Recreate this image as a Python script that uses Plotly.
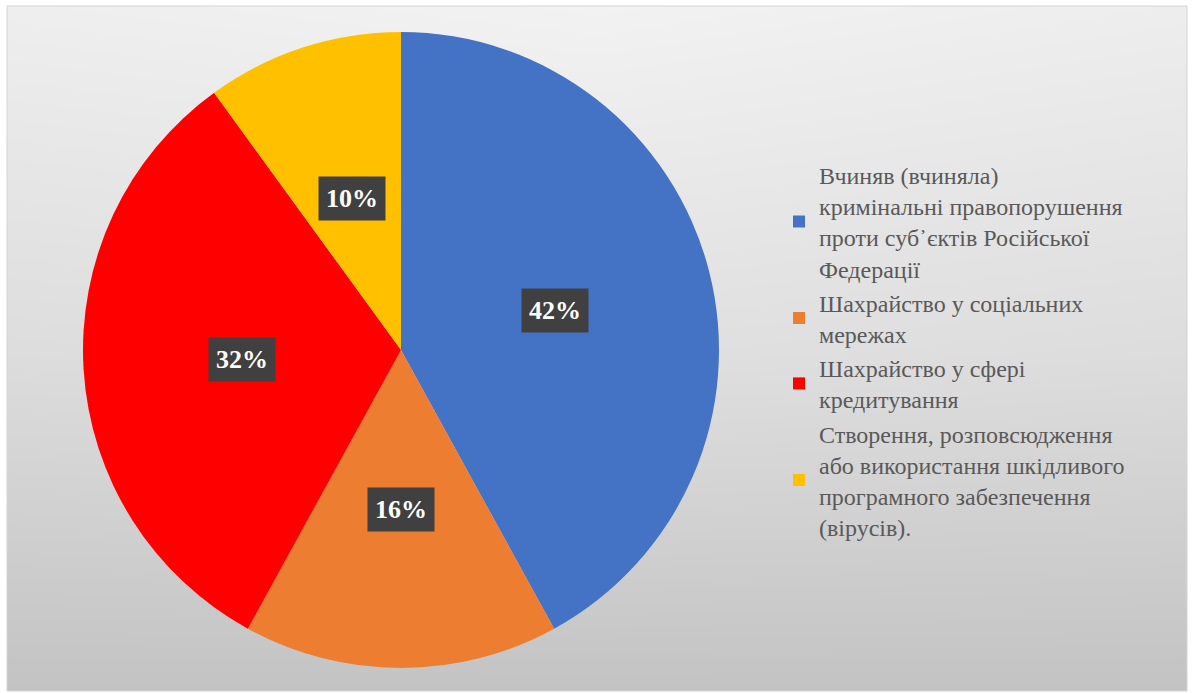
import math
import plotly.graph_objects as go

# Categories and their shares (%)
labels = [
    "Вчиняв (вчиняла)<br>кримінальні правопорушення<br>проти суб᾿єктів Російської<br>Федерації",
    "Шахрайство у соціальних<br>мережах",
    "Шахрайство у сфері<br>кредитування",
    "Створення, розповсюдження<br>або використання шкідливого<br>програмного забезпечення<br>(вірусів).",
]
values = [42, 16, 32, 10]
colors = ["#4472C4", "#ED7D31", "#FF0000", "#FFC000"]

W, H = 1194, 693

# Pie geometry in pixels
pie_cx, pie_cy, pie_r = 401, 350, 318

fig = go.Figure()

# Background panel with a soft vertical/diagonal grey gradient
fig.add_trace(go.Heatmap(
    z=[[0.0, 0.0, 0.0], [0.55, 0.62, 0.55], [0.92, 1.0, 0.9]],
    x=[0, 0.5, 1], y=[0, 0.5, 1],
    zsmooth="best", showscale=False, hoverinfo="skip",
    colorscale=[[0, "rgb(195,195,195)"], [1, "rgb(242,242,242)"]],
    zmin=0, zmax=1,
    xaxis="x", yaxis="y",
))

fig.add_trace(go.Pie(
    labels=labels,
    values=values,
    marker=dict(colors=colors, line=dict(width=0)),
    sort=False,
    direction="clockwise",
    rotation=0,
    textinfo="none",
    hoverinfo="label+percent",
    domain=dict(
        x=[(pie_cx - pie_r) / W, (pie_cx + pie_r) / W],
        y=[1 - (pie_cy + pie_r) / H, 1 - (pie_cy - pie_r) / H],
    ),
))

# Percentage labels in dark boxes at half radius of each slice's mid-angle
total = sum(values)
annotations = []
cum = 0
for v in values:
    mid = (cum + v / 2) / total * 2 * math.pi
    cum += v
    px = pie_cx + 0.5 * pie_r * math.sin(mid)
    py = pie_cy - 0.5 * pie_r * math.cos(mid)
    annotations.append(dict(
        x=px / W, y=1 - py / H, xref="paper", yref="paper",
        xanchor="center", yanchor="middle",
        text=f"<b>{round(v / total * 100)}%</b>",
        showarrow=False,
        font=dict(family="Liberation Serif", size=26, color="white"),
        bgcolor="#404040",
        borderpad=7,
    ))

shapes = [
    # panel border
    dict(type="rect", xref="paper", yref="paper",
         x0=7 / W, x1=1187 / W, y0=1 - 691 / H, y1=1 - 6 / H,
         line=dict(color="#d4d4d4", width=1), fillcolor="rgba(0,0,0,0)", layer="above"),
    # legend backing
    dict(type="rect", xref="paper", yref="paper",
         x0=796 / W, x1=1184 / W, y0=1 - 535 / H, y1=1 - 165 / H,
         line=dict(width=0), fillcolor="rgba(242,242,242,0.9)", layer="below"),
]

fig.update_layout(
    width=W, height=H,
    margin=dict(l=0, r=0, t=0, b=0),
    paper_bgcolor="white",
    plot_bgcolor="rgba(0,0,0,0)",
    xaxis=dict(domain=[7 / W, 1187 / W], range=[0, 1], visible=False, fixedrange=True),
    yaxis=dict(domain=[1 - 691 / H, 1 - 6 / H], range=[0, 1], visible=False, fixedrange=True),
    showlegend=True,
    legend=dict(
        x=779 / W, y=1 - 351 / H, xanchor="left", yanchor="middle",
        bgcolor="rgba(0,0,0,0)",
        font=dict(family="Liberation Serif", size=24, color="#595959"),
        tracegroupgap=0,
    ),
    annotations=annotations,
    shapes=shapes,
)

fig.write_html("out.html", config={"displayModeBar": False})
